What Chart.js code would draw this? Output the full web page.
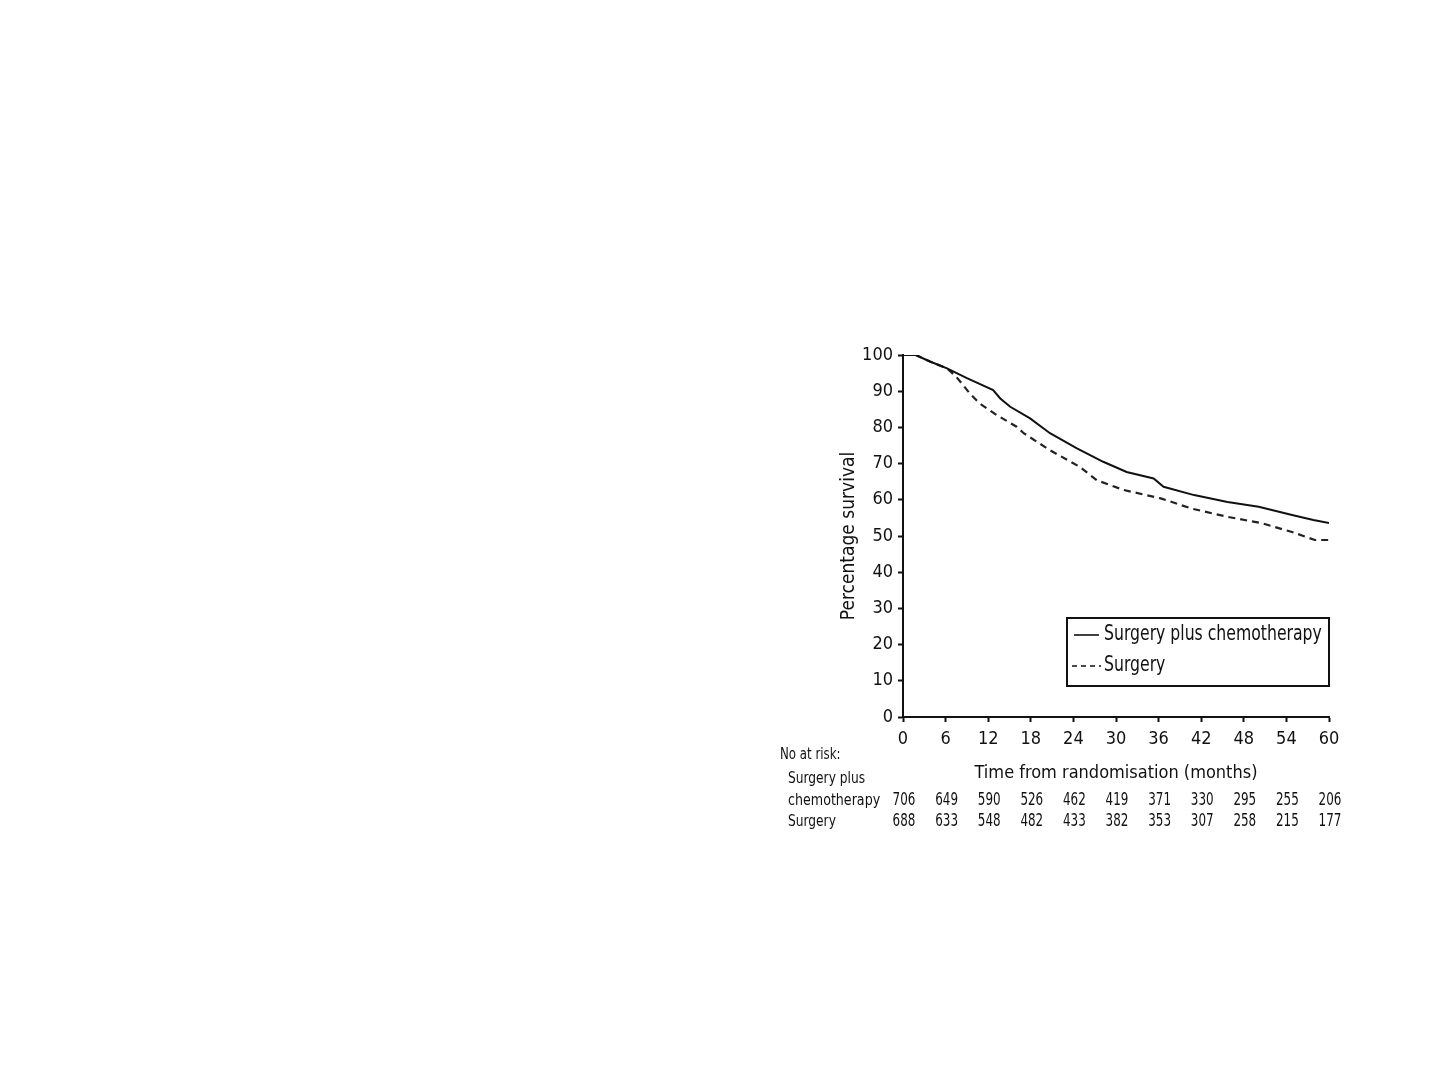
<!DOCTYPE html>
<html>
<head>
<meta charset="utf-8">
<title>Percentage survival</title>
<script src="https://cdn.jsdelivr.net/npm/chart.js@4.4.1/dist/chart.umd.min.js"></script>
<style>
  html, body { margin: 0; padding: 0; background: #ffffff; }
  canvas { display: block; }
</style>
</head>
<body>
<canvas id="survivalChart" width="1440" height="1080"></canvas>
<script>
// Datos (meses, % de supervivencia)
const chemoMonths = [0, 1.8, 3.8, 6.2, 9.0, 12.7, 13.7, 15.1, 17.9, 20.7, 24.5, 28.2, 31.5, 35.3, 36.7, 41, 45.7, 50.1, 54.8, 57.8, 60];
const chemoSurvival = [100, 100, 98.2, 96.3, 93.6, 90.3, 88.0, 85.7, 82.5, 78.4, 74.2, 70.5, 67.7, 65.9, 63.6, 61.3, 59.4, 58.1, 55.8, 54.4, 53.6];

const surgeryMonths = [0, 1.8, 3.8, 6.2, 7.5, 9.4, 10.8, 13.2, 16.0, 17.0, 20.7, 24.9, 27.3, 31.1, 36.3, 40.6, 45.7, 50.6, 54.8, 56.7, 58, 60];
const surgerySurvival = [100, 100, 98.2, 96.3, 94.0, 89.4, 86.6, 83.4, 80.2, 78.4, 73.7, 69.1, 65.4, 62.7, 60.4, 57.6, 55.3, 53.5, 51.1, 49.8, 48.9, 48.9];

// Tabla "No at risk"
const riskMonths = [0, 6, 12, 18, 24, 30, 36, 42, 48, 54, 60];
const riskChemo = [706, 649, 590, 526, 462, 419, 371, 330, 295, 255, 206];
const riskSurgery = [688, 633, 548, 482, 433, 382, 353, 307, 258, 215, 177];

const seriesLabels = ['Surgery plus chemotherapy', 'Surgery'];

const FONT = '"DejaVu Sans Condensed", "DejaVu Sans", sans-serif';
const INK = '#111111';

function toPoints(xs, ys) {
    return xs.map((m, i) => ({ x: m, y: ys[i] }));
}

// Texto comprimido horizontalmente (la fuente original es más estrecha)
function narrowText(ctx, text, x, y, sx) {
    ctx.save();
    ctx.translate(x, y);
    ctx.scale(sx, 1);
    ctx.fillText(text, 0, 0);
    ctx.restore();
}

// Leyenda con recuadro, dentro del área del gráfico
const boxedLegend = {
    id: 'boxedLegend',
    afterDatasetsDraw(chart) {
        const { ctx, chartArea } = chart;
        const right = chartArea.right;
        const left = right - 262;
        const top = chartArea.top + 263;
        const bottom = top + 68;

        ctx.save();
        ctx.fillStyle = '#ffffff';
        ctx.fillRect(left, top, right - left, bottom - top);
        ctx.strokeStyle = INK;
        ctx.lineWidth = 2;
        ctx.strokeRect(left, top, right - left, bottom - top);

        const rows = [top + 17, top + 48];
        ctx.lineWidth = 1.6;
        ctx.beginPath();
        ctx.moveTo(left + 7, rows[0]);
        ctx.lineTo(left + 32, rows[0]);
        ctx.stroke();

        ctx.setLineDash([5, 4]);
        ctx.beginPath();
        ctx.moveTo(left + 5, rows[1]);
        ctx.lineTo(left + 34, rows[1]);
        ctx.stroke();
        ctx.setLineDash([]);

        ctx.fillStyle = INK;
        ctx.font = '21px ' + FONT;
        ctx.textAlign = 'left';
        ctx.textBaseline = 'middle';
        narrowText(ctx, seriesLabels[0], left + 37, rows[0], 0.83);
        narrowText(ctx, seriesLabels[1], left + 37, rows[1], 0.83);
        ctx.restore();
    }
};

// Tabla de pacientes en riesgo bajo el eje x
const riskTable = {
    id: 'riskTable',
    afterDraw(chart) {
        const { ctx, chartArea, scales } = chart;
        const x = scales.x;
        const base = chartArea.bottom;

        ctx.save();
        ctx.fillStyle = INK;
        ctx.textBaseline = 'middle';
        ctx.textAlign = 'left';
        ctx.font = '16px ' + FONT;
        narrowText(ctx, 'No at risk:', chartArea.left - 123, base + 38, 0.82);
        narrowText(ctx, 'Surgery plus', chartArea.left - 115, base + 62, 0.85);
        narrowText(ctx, 'chemotherapy', chartArea.left - 115, base + 84, 0.88);
        narrowText(ctx, 'Surgery', chartArea.left - 115, base + 105, 0.85);

        ctx.textAlign = 'center';
        ctx.font = '17px ' + FONT;
        riskMonths.forEach((m, i) => {
            const px = x.getPixelForValue(m) + 1;
            narrowText(ctx, String(riskChemo[i]), px, base + 84, 0.78);
            narrowText(ctx, String(riskSurgery[i]), px, base + 105, 0.78);
        });
        ctx.restore();
    }
};

const axisGrid = {
    display: true,
    drawOnChartArea: false,
    drawTicks: true,
    tickLength: 5,
    tickColor: INK,
    tickWidth: 2
};

const ctx = document.getElementById('survivalChart').getContext('2d');

new Chart(ctx, {
    type: 'line',
    data: {
        datasets: [
            {
                label: seriesLabels[0],
                data: toPoints(chemoMonths, chemoSurvival),
                borderColor: INK,
                borderWidth: 2,
                pointRadius: 0,
                tension: 0,
                fill: false
            },
            {
                label: seriesLabels[1],
                data: toPoints(surgeryMonths, surgerySurvival),
                borderColor: '#222222',
                borderWidth: 2.2,
                borderDash: [7, 5],
                pointRadius: 0,
                tension: 0,
                fill: false
            }
        ]
    },
    options: {
        responsive: false,
        animation: false,
        layout: {
            padding: { left: 830, right: 111, top: 355, bottom: 293 }
        },
        plugins: {
            legend: { display: false },
            tooltip: { enabled: false }
        },
        scales: {
            x: {
                type: 'linear',
                min: 0,
                max: 60,
                grid: axisGrid,
                border: { display: true, color: INK, width: 2 },
                ticks: {
                    stepSize: 6,
                    color: INK,
                    padding: 7,
                    maxRotation: 0,
                    font: { family: FONT, size: 18 }
                },
                title: {
                    display: true,
                    text: 'Time from randomisation (months)',
                    color: INK,
                    padding: { top: 0, bottom: 3 },
                    font: { family: FONT, size: 18 }
                },
                afterFit: scale => { scale.height = 70; }
            },
            y: {
                min: 0,
                max: 100,
                grid: axisGrid,
                border: { display: true, color: INK, width: 2 },
                ticks: {
                    stepSize: 10,
                    color: INK,
                    padding: 5,
                    font: { family: FONT, size: 18 }
                },
                title: {
                    display: true,
                    text: 'Percentage survival',
                    color: INK,
                    padding: { top: 8, bottom: 0 },
                    font: { family: FONT, size: 19 }
                },
                afterFit: scale => { scale.width = 73; }
            }
        }
    },
    plugins: [boxedLegend, riskTable]
});
</script>
</body>
</html>
